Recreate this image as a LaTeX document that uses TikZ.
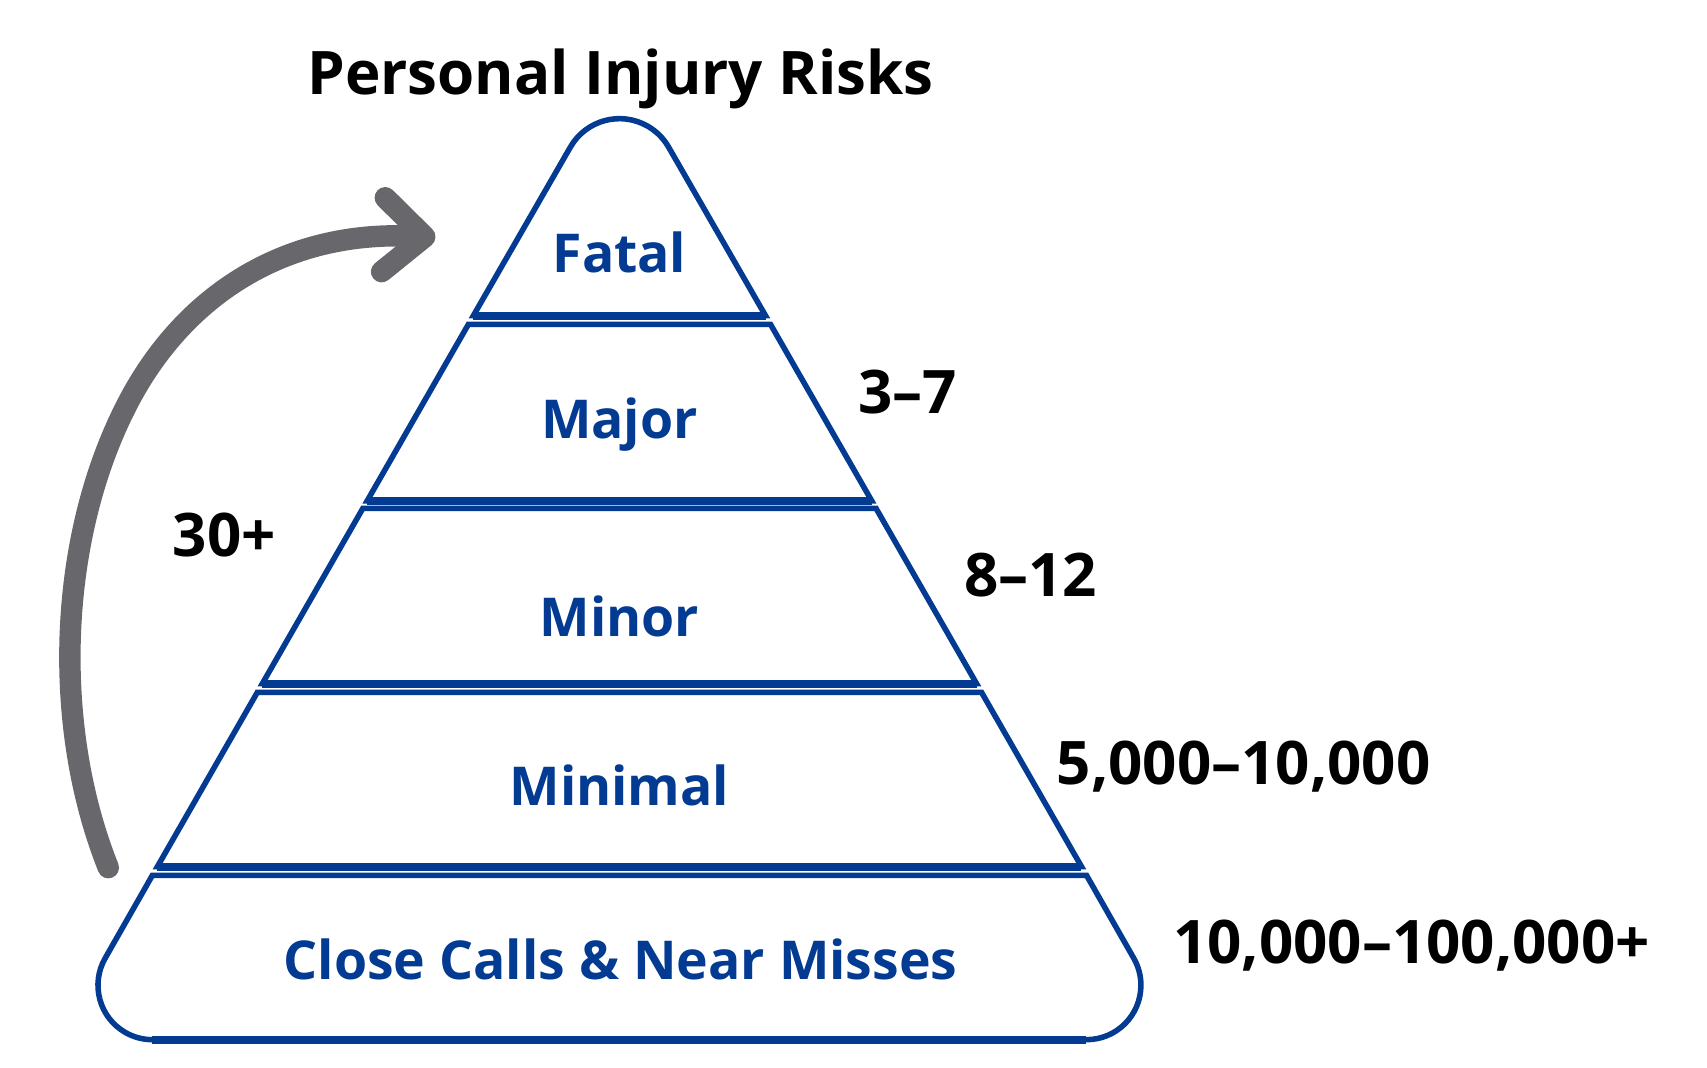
\documentclass[tikz,border=0pt]{standalone}
\usepackage{fontspec}
\setmainfont{Open Sans}
\usetikzlibrary{arrows.meta}
\definecolor{pyramidblue}{HTML}{033A92}
\definecolor{arrowgrey}{HTML}{68676C}
\definecolor{countblack}{HTML}{000000}

\begin{document}
\begin{tikzpicture}[
    band/.style={
        draw=pyramidblue,
        line width=1.45pt,
    },
    bandbase/.style={
        draw=pyramidblue,
        line width=2.1pt,
    },
    tierlabel/.style={
        pyramidblue,
        font=\fontsize{14}{17}\selectfont\bfseries,
        anchor=base,
    },
    countlabel/.style={
        countblack,
        font=\fontsize{15.7}{19}\selectfont\bfseries,
        anchor=base west,
        inner sep=0pt,
    },
    jumparrow/.style={
        arrowgrey,
        line width=5.6pt,
        line cap=round,
        -{Straight Barb[length=3.8mm, width=6.8mm, round]},
    },
]

% Canvas
\useasboundingbox (0,0) rectangle (15.68,9.81);

% Title
\node[font=\fontsize{15.7}{19}\selectfont\bfseries, anchor=base] (title) at (5.70,8.94) {Personal Injury Risks};

% Top band with rounded apex
\draw[band] (4.348,6.91) -- (5.24,8.46) arc[start angle=150, end angle=30, radius=0.52] -- (7.032,6.91) -- cycle;

% Middle bands
\foreach \ytop/\ybot in {6.83/5.21, 5.14/3.53, 3.45/1.85}
    \draw[band] ({5.69-0.5735*(9.25-\ytop)},\ytop) -- ({5.69+0.5735*(9.25-\ytop)},\ytop)
        -- ({5.69+0.5735*(9.25-\ybot)},\ybot) -- ({5.69-0.5735*(9.25-\ybot)},\ybot) -- cycle;

% Bottom band with rounded feet
\draw[band] (1.40,1.77) -- (0.967,1.01) arc[start angle=150, end angle=270, radius=0.5]
    -- (9.98,0.26) arc[start angle=270, end angle=390, radius=0.5] -- (9.98,1.77) -- cycle;

% Heavier base line under each band
\foreach \ybot in {6.91, 5.21, 3.53, 1.85}
    \draw[bandbase] ({5.69-0.5735*(9.25-\ybot)},\ybot) -- ({5.69+0.5735*(9.25-\ybot)},\ybot);
\draw[bandbase] (1.40,0.26) -- (9.98,0.26);

% Band labels
\node[tierlabel] (fatal) at (5.69,7.31) {Fatal};
\node[tierlabel] (major) at (5.69,5.78) {Major};
\node[tierlabel] (minor) at (5.69,3.96) {Minor};
\node[tierlabel] (minimal) at (5.69,2.41) {Minimal};
\node[tierlabel] (nearmiss) at (5.70,0.81) {Close Calls \& Near Misses};

% Counts
\node[countlabel] (majorcount) at (7.88,6.01) {3--7};
\node[countlabel] (minorcount) at (8.85,4.33) {8--12};
\node[countlabel] (minimalcount) at (9.70,2.60) {5,000--10,000};
\node[countlabel] (nearmisscount) at (10.77,0.96) {10,000--100,000+};
\node[countlabel] (jumpcount) at (1.58,4.70) {30+};

% Curved arrow up the left side
\coordinate (arrstart) at (0.995,1.84);
\coordinate (arrtip) at (4.00,7.63);
\draw[jumparrow] (arrstart) .. controls (0.475,3.14) and (0.526,4.854) .. (1.17,6.10)
    .. controls (1.676,7.08) and (2.6,7.70) .. (arrtip);

\end{tikzpicture}
\end{document}
